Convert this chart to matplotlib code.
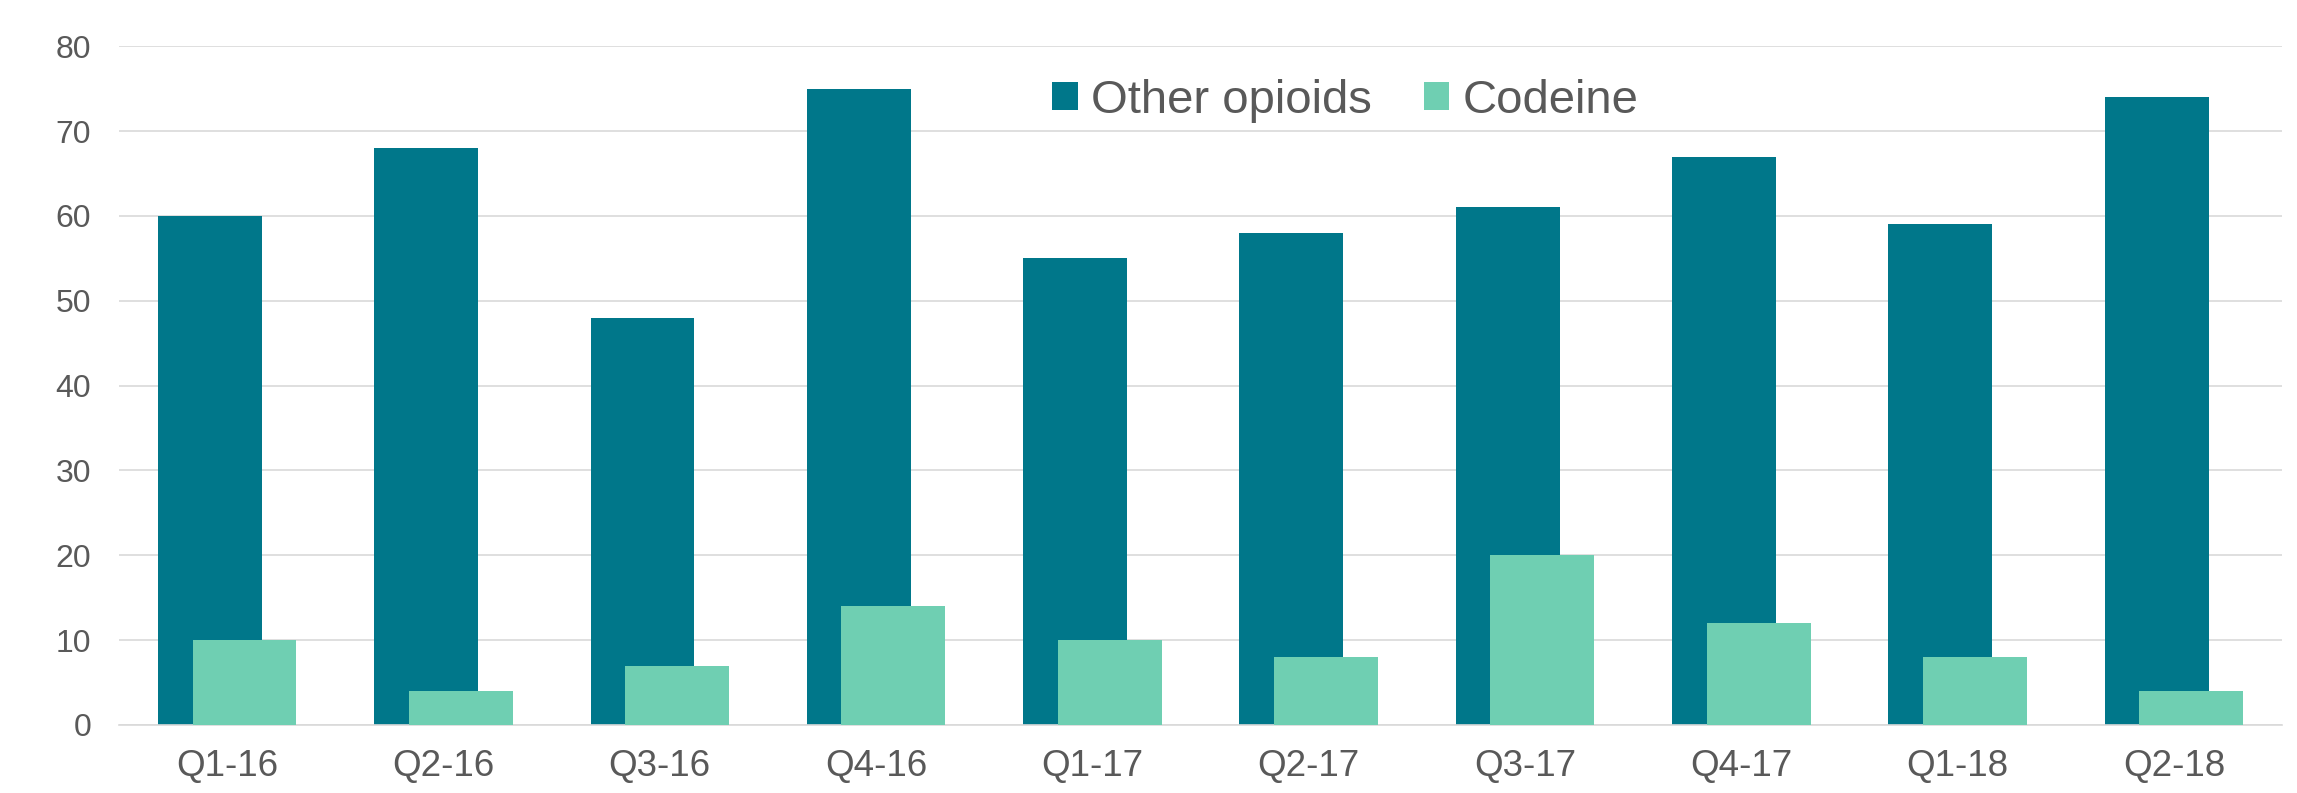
import matplotlib
matplotlib.use("Agg")
import matplotlib.pyplot as plt
import numpy as np
from matplotlib.patches import Patch

categories = ["Q1-16", "Q2-16", "Q3-16", "Q4-16", "Q1-17", "Q2-17", "Q3-17", "Q4-17", "Q1-18", "Q2-18"]
other_opioids = [60, 68, 48, 75, 55, 58, 61, 67, 59, 74]
codeine = [10, 4, 7, 14, 10, 8, 20, 12, 8, 4]
y_ticks = [0, 10, 20, 30, 40, 50, 60, 70, 80]

c_other = "#00778A"
c_codeine = "#6FCFB2"
c_text = "#595959"
c_grid = "#D9D9D9"

plt.rcParams['font.family'] = ['Liberation Sans', 'DejaVu Sans']

fig = plt.figure(figsize=(22.97, 7.93), dpi=100)
ax = fig.add_axes([0.0518, 0.0858, 0.9417, 0.8558])

x = np.arange(len(categories))
w = 0.48
off = 0.08
ax.bar(x - off, other_opioids, width=w, color=c_other, zorder=2, linewidth=0)
ax.bar(x + off, codeine, width=w, color=c_codeine, zorder=3, linewidth=0)

ax.set_xlim(-0.5, len(categories) - 0.5)
ax.set_ylim(0, 80)
ax.set_yticks(y_ticks)
ax.set_xticks(x)
ax.set_xticklabels(categories)
ax.yaxis.grid(True, color=c_grid, linewidth=1.2, zorder=0)
ax.set_axisbelow(True)
for s in ["top", "right", "left"]:
    ax.spines[s].set_visible(False)
ax.spines["bottom"].set_color(c_grid)
ax.spines["bottom"].set_linewidth(1.2)
ax.tick_params(axis="y", length=0, pad=20, labelsize=23, labelcolor=c_text)
ax.tick_params(axis="x", length=0, pad=17, labelsize=26.5, labelcolor=c_text)

handles = [Patch(facecolor=c_other, edgecolor="none", label="Other opioids"),
           Patch(facecolor=c_codeine, edgecolor="none", label="Codeine")]
leg = ax.legend(handles=handles, loc="center", bbox_to_anchor=(0.567, 0.92), ncol=2,
                frameon=False, fontsize=34, handlelength=0.54, handleheight=0.54,
                handletextpad=0.28, columnspacing=1.1, borderpad=0, borderaxespad=0)
for t in leg.get_texts():
    t.set_color(c_text)

fig.savefig("out.png", dpi=100)
